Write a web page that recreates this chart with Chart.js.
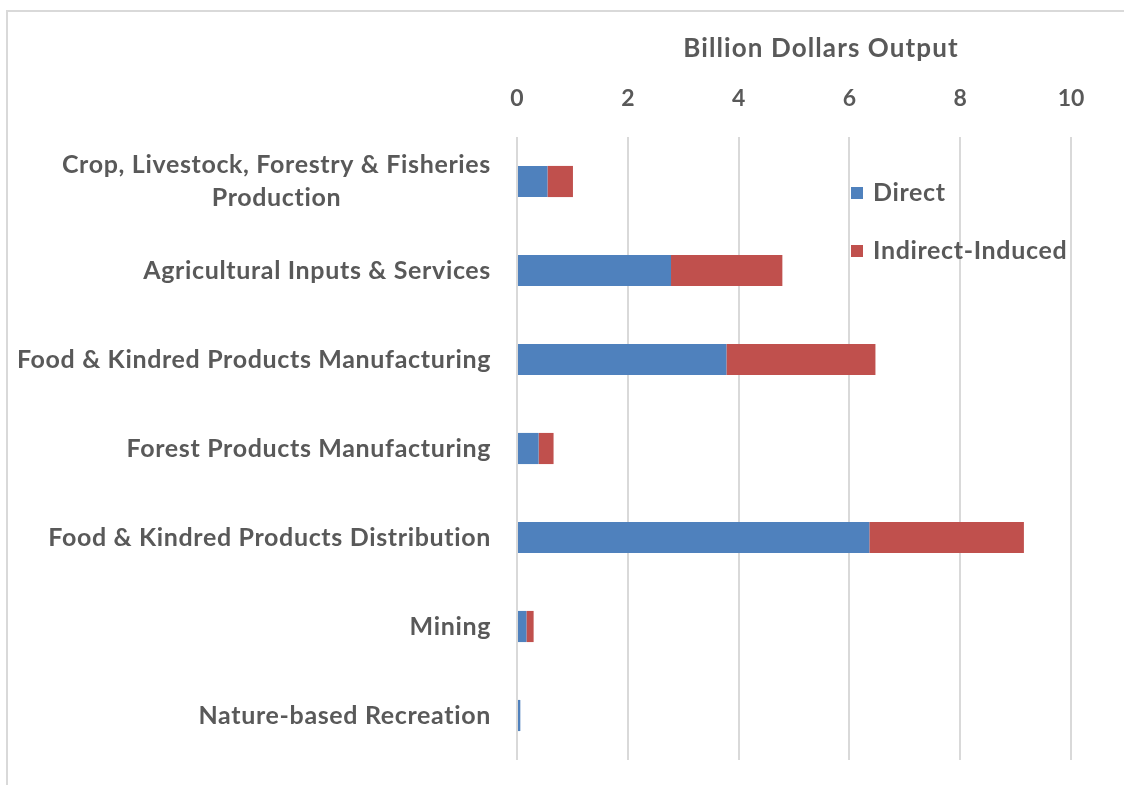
<!DOCTYPE html>
<html>
<head>
<meta charset="utf-8">
<title>Billion Dollars Output</title>
<script src="https://cdn.jsdelivr.net/npm/chart.js@4.4.0/dist/chart.umd.min.js"></script>
<style>
  html, body { margin: 0; padding: 0; background: #fff; overflow: hidden; }
  #wrap { position: relative; width: 1124px; height: 785px; }
  #frame { position: absolute; left: 6px; top: 10px; width: 1140px; height: 800px;
           border: 2px solid #d9d9d9; box-sizing: border-box; }
  canvas { position: absolute; left: 0; top: 0; }
</style>
</head>
<body>
<div id="wrap">
  <div id="frame"></div>
  <canvas id="chart" width="1124" height="785"></canvas>
</div>
<script>
const categories = [
  ['Crop, Livestock, Forestry & Fisheries', 'Production'],
  'Agricultural Inputs & Services',
  'Food & Kindred Products Manufacturing',
  'Forest Products Manufacturing',
  'Food & Kindred Products Distribution',
  'Mining',
  'Nature-based Recreation'
];
const direct = [0.55, 2.78, 3.78, 0.39, 6.36, 0.17, 0.06];
const indirectInduced = [0.46, 2.01, 2.69, 0.27, 2.79, 0.13, 0];
const seriesNames = ['Direct', 'Indirect-Induced'];
const xTicks = [0, 2, 4, 6, 8, 10];
const axisTitle = 'Billion Dollars Output';

const textColor = '#595959';
const fontFamily = 'Lato, "Open Sans", sans-serif';

// category labels, axis title and legend drawn the way the spreadsheet lays them out
const excelText = {
  id: 'excelText',
  afterDraw(chart) {
    const { ctx, scales: { x, y } } = chart;
    ctx.save();
    ctx.fillStyle = textColor;
    ctx.textBaseline = 'middle';
    ctx.textAlign = 'center';

    ctx.font = `bold 25px ${fontFamily}`;
    ctx.letterSpacing = '0.65px';
    categories.forEach((label, i) => {
      const lines = Array.isArray(label) ? label : [label];
      const w = Math.max(...lines.map(l => ctx.measureText(l).width));
      const cx = x.left - 26 - w / 2;
      const cy = y.getPixelForValue(i);
      lines.forEach((l, j) => {
        ctx.fillText(l, cx, cy + (j - (lines.length - 1) / 2) * 33);
      });
    });

    ctx.textAlign = 'left';
    chart.data.datasets.forEach((ds, i) => {
      const ly = 193 + i * 58;
      ctx.fillStyle = ds.backgroundColor;
      ctx.fillRect(851, ly - 6, 12, 12);
      ctx.fillStyle = textColor;
      ctx.fillText(ds.label, 873, ly);
    });

    ctx.textAlign = 'center';
    ctx.font = `bold 26px ${fontFamily}`;
    ctx.letterSpacing = '1.1px';
    ctx.fillText(axisTitle, 821, 49);
    ctx.restore();
  }
};

new Chart(document.getElementById('chart'), {
  type: 'bar',
  data: {
    labels: categories,
    datasets: [
      { label: seriesNames[0], data: direct, backgroundColor: '#4f81bd' },
      { label: seriesNames[1], data: indirectInduced, backgroundColor: '#c0504d' }
    ]
  },
  options: {
    indexAxis: 'y',
    responsive: false,
    animation: false,
    barPercentage: 0.35,
    categoryPercentage: 1,
    layout: { padding: { left: 0, right: 53, top: 0, bottom: 25 } },
    plugins: {
      legend: { display: false },
      tooltip: { enabled: false }
    },
    scales: {
      x: {
        position: 'top',
        stacked: true,
        min: 0,
        max: 10,
        afterBuildTicks: s => { s.ticks = xTicks.map(v => ({ value: v })); },
        afterFit: s => { s.height = 137; },
        grid: { color: '#d9d9d9', lineWidth: 2, drawTicks: false },
        border: { display: false },
        ticks: {
          color: textColor,
          padding: 25,
          font: { family: fontFamily, size: 23, weight: 'bold' }
        }
      },
      y: {
        stacked: true,
        afterFit: s => { s.width = 517; },
        grid: { display: false },
        border: { display: false },
        ticks: { display: false }
      }
    }
  },
  plugins: [excelText]
});
</script>
</body>
</html>
